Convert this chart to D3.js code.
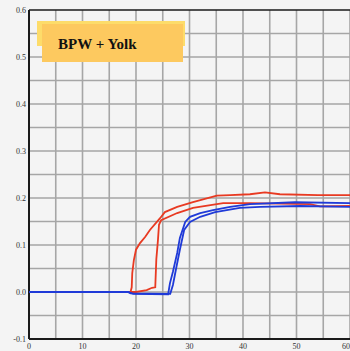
<!DOCTYPE html>
<html>
<head>
<meta charset="utf-8">
<script src="https://cdn.jsdelivr.net/npm/d3@7"></script>
<style>
html,body{margin:0;padding:0;background:#f4f4f4;}
svg{display:block;}
</style>
</head>
<body>
<script>
const xTicks = [0, 10, 20, 30, 40, 50, 60];
const yTicks = [-0.1, 0.0, 0.1, 0.2, 0.3, 0.4, 0.5, 0.6];
const yTickLabels = ["-0.1", "0.0", "0.1", "0.2", "0.3", "0.4", "0.5", "0.6"];
const gridX = [5, 10, 15, 20, 25, 30, 35, 40, 45, 50, 55, 60];
const gridY = [-0.05, 0, 0.05, 0.1, 0.15, 0.2, 0.25, 0.3, 0.35, 0.4, 0.45, 0.5, 0.55];
const labelText = "BPW + Yolk";

const red1T = [0, 19.0, 19.2, 19.3, 19.6, 20.0, 20.75, 21.7, 22.6, 24.5, 25.4, 27.7, 30.65, 35.1, 37.6, 41.3, 44.1, 46.9, 54.0, 60];
const red1V = [0.0, 0.001, 0.01, 0.04, 0.068, 0.09, 0.104, 0.117, 0.132, 0.157, 0.170, 0.181, 0.191, 0.205, 0.206, 0.208, 0.212, 0.208, 0.206, 0.206];

const red2T = [0, 20.0, 22.0, 23.0, 23.6, 23.8, 24.1, 24.3, 24.7, 27.7, 30.65, 36.3, 41.3, 52.5, 54.4, 60];
const red2V = [0.0, 0.0, 0.004, 0.009, 0.01, 0.07, 0.11, 0.143, 0.153, 0.168, 0.179, 0.189, 0.189, 0.187, 0.182, 0.183];

const blue1T = [0, 18.5, 19.5, 26.0, 26.35, 26.9, 27.7, 28.2, 29.2, 30.1, 32.0, 34.4, 37.6, 41.3, 49.7, 60];
const blue1V = [0.0, 0.0, -0.004, -0.005, 0.019, 0.043, 0.083, 0.115, 0.149, 0.160, 0.168, 0.174, 0.181, 0.187, 0.191, 0.189];

const blue2T = [0, 18.5, 19.0, 26.4, 26.9, 27.5, 28.2, 29.0, 30.1, 32.0, 34.8, 39.4, 43.2, 50.7, 60];
const blue2V = [0.0, 0.0, -0.003, -0.004, 0.015, 0.05, 0.09, 0.132, 0.149, 0.160, 0.170, 0.179, 0.181, 0.183, 0.181];

const W = 350, H = 351;
const svg = d3.select("body").append("svg").attr("width", W).attr("height", H);
svg.append("rect").attr("width", W).attr("height", H).attr("fill", "#f4f4f4");

const x = d3.scaleLinear().domain([0, 60]).range([29, 350]);
const y = d3.scaleLinear().domain([-0.1, 0.6]).range([339, 10]);

// grid
svg.append("g").selectAll("line").data(gridX).join("line")
  .attr("x1", d => x(d)).attr("x2", d => x(d)).attr("y1", y(0.6)).attr("y2", y(-0.1))
  .attr("stroke", "#a6a6a6").attr("stroke-width", 1.6);
svg.append("g").selectAll("line").data(gridY).join("line")
  .attr("x1", x(0)).attr("x2", x(60)).attr("y1", d => y(d)).attr("y2", d => y(d))
  .attr("stroke", "#a6a6a6").attr("stroke-width", 1.6);

// axes lines
svg.append("line").attr("x1", x(0)).attr("x2", x(0)).attr("y1", y(0.6)).attr("y2", y(-0.1))
  .attr("stroke", "#1a1a1a").attr("stroke-width", 2);
svg.append("line").attr("x1", x(0)).attr("x2", x(60)).attr("y1", y(-0.1)).attr("y2", y(-0.1))
  .attr("stroke", "#1a1a1a").attr("stroke-width", 2);
svg.append("line").attr("x1", x(0)).attr("x2", x(60)).attr("y1", y(0.6)).attr("y2", y(0.6))
  .attr("stroke", "#1a1a1a").attr("stroke-width", 1.6);

// tick labels
svg.append("g").selectAll("text").data(yTicks).join("text")
  .attr("x", 26).attr("y", d => y(d)).attr("dy", "0.35em")
  .attr("text-anchor", "end").attr("font-family", "Liberation Serif, serif")
  .attr("font-size", 8).attr("fill", "#333")
  .text((d, i) => yTickLabels[i]);
svg.append("g").selectAll("text").data(xTicks).join("text")
  .attr("x", d => x(d)).attr("y", 349)
  .attr("text-anchor", d => d === 60 ? "end" : "middle").attr("font-family", "Liberation Serif, serif")
  .attr("font-size", 8).attr("fill", "#333")
  .text(d => d);

// lines (red first, blue drawn on top as in the reference)
const line = d3.line().x(d => x(d[0])).y(d => y(d[1]));
const series = [
  {t: red2T, v: red2V, c: "#e83a22"},
  {t: red1T, v: red1V, c: "#e83a22"},
  {t: blue2T, v: blue2V, c: "#1f3ad8"},
  {t: blue1T, v: blue1V, c: "#1f3ad8"}
];
series.forEach(s => {
  svg.append("path").datum(s.t.map((t, i) => [t, s.v[i]]))
    .attr("d", line).attr("fill", "none").attr("stroke", s.c)
    .attr("stroke-width", 1.8).attr("stroke-linejoin", "miter");
});

// label box
svg.append("rect").attr("x", 37).attr("y", 21).attr("width", 148).attr("height", 25).attr("fill", "#fddc6a");
svg.append("rect").attr("x", 42).attr("y", 24).attr("width", 141).attr("height", 38).attr("fill", "#fdc95f");
svg.append("text").attr("x", 58).attr("y", 49)
  .attr("font-family", "Liberation Serif, 'Times New Roman', serif")
  .attr("font-weight", "bold").attr("font-size", 15).attr("fill", "#111")
  .text(labelText);
</script>
</body>
</html>
